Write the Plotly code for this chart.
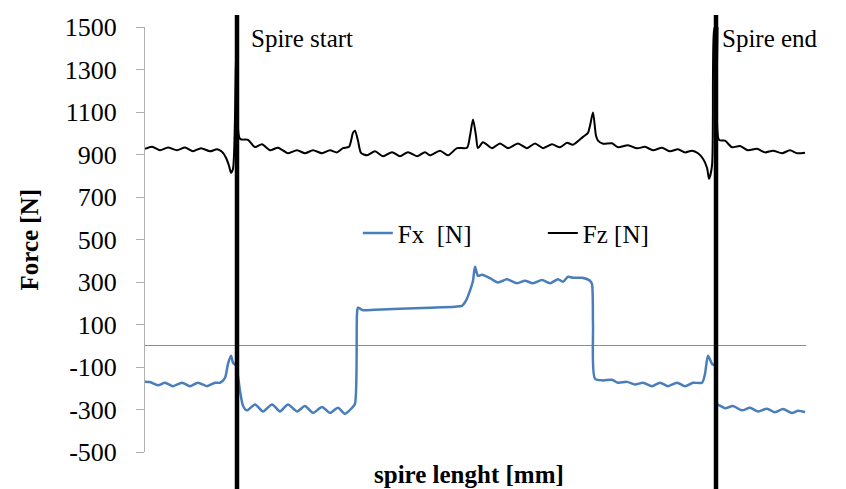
import plotly.graph_objects as go

# ---- data ----
fz_x = [0.0, 0.7, 1.5, 2.3, 3.2, 4.0, 4.8, 5.6, 6.5, 7.2, 7.7, 8.1, 8.4, 8.6, 8.8, 9.1, 9.3,
        9.5, 10.3, 11.0, 11.7, 12.5, 13.3, 14.3, 15.2, 16.0, 16.8, 17.7, 18.5, 19.2, 19.8, 20.4,
        20.8, 21.0, 21.3, 21.6, 22.2, 23.0, 23.8, 24.7, 25.5, 26.3, 27.2, 28.0, 28.5, 29.5, 30.3,
        31.2, 32.2, 32.5, 32.8, 33.1, 33.3, 33.8, 34.7, 35.5, 36.3, 37.3, 38.2, 39.0, 39.8, 40.7,
        41.5, 42.2, 42.8, 43.8, 44.3, 44.5, 44.8, 45.1, 45.3, 45.8, 46.7, 47.3, 48.3, 49.2, 50.0,
        50.8, 51.7, 52.5, 53.3, 54.0, 54.7, 55.3, 55.8, 56.2, 56.4, 56.7, 56.9, 57.2, 57.4, 58.0,
        58.7, 59.5, 60.3, 61.2, 62.0, 62.8, 63.7, 64.5, 65.2, 66.0]
fz_y = [927, 937, 920, 933, 920, 933, 915, 930, 915, 925, 913, 885, 847, 814, 833, 1341, 1530,
        974, 969, 935, 948, 920, 932, 906, 920, 906, 920, 906, 920, 910, 930, 936,
        1002, 1012, 965, 908, 896, 915, 892, 911, 892, 911, 892, 911, 896, 918, 896,
        930, 932, 988, 1065, 988, 930, 958, 930, 952, 930, 952, 930, 952, 930, 948,
        934, 955, 946, 983, 1002, 1035, 1098, 988, 965, 951, 953, 934, 944, 929, 936,
        920, 932, 915, 925, 910, 918, 906, 880, 838, 786, 847, 1482, 1530, 969, 965,
        934, 940, 920, 927, 910, 918, 906, 920, 906, 908]

fx_x = [0.0, 0.5, 1.3, 2.0, 2.8, 3.7, 4.5, 5.3, 6.2, 7.0, 7.5, 8.0, 8.3, 8.6, 8.8, 9.1, 9.5,
        9.8, 10.2, 11.0, 11.8, 12.7, 13.5, 14.3, 15.2, 16.0, 16.8, 17.7, 18.5, 19.3, 20.0, 20.7,
        21.0, 21.2, 21.3, 21.8, 23.0, 25.5, 28.5, 31.0, 31.7, 32.1, 32.5, 32.8, 33.0, 33.3, 33.7,
        34.5, 35.3, 36.2, 37.2, 38.0, 38.8, 39.7, 40.5, 41.3, 41.8, 42.3, 42.8, 43.7, 44.5, 44.7,
        44.8, 45.0, 45.8, 46.7, 47.3, 48.2, 49.0, 49.8, 50.7, 51.5, 52.3, 53.2, 54.0, 54.8, 55.7,
        56.0, 56.3, 56.7, 57.0, 57.2, 57.5, 58.0, 58.8, 59.7, 60.5, 61.3, 62.2, 63.0, 63.8, 64.7,
        65.3, 66.0]
fx_y = [-169, -171, -186, -174, -190, -174, -190, -174, -190, -174, -174, -151, -85, -47, -80, -94, -212,
        -282, -304, -276, -309, -276, -309, -276, -309, -284, -316, -288, -316, -292, -320, -292,
        -273, 150, 179, 167, 170, 174, 179, 184, 188, 212, 259, 306, 372, 329, 334,
        318, 298, 313, 294, 306, 294, 309, 294, 313, 301, 325, 320, 320, 306, 290,
        100, -155, -163, -160, -174, -170, -182, -174, -190, -174, -190, -174, -190, -174, -174,
        -132, -47, -85, -94, -273, -282, -294, -284, -304, -292, -309, -296, -313, -298, -316,
        -306, -313]

spire_marks_x = [9.2, 57.1]
spire_marks_text = ["Spire start", "Spire end"]
spire_text_shift = [12, 4]
y_ticks = [-500, -300, -100, 100, 300, 500, 700, 900, 1100, 1300, 1500]
y_tick_text = ["-500", "-300", "-100", "100", "300", "500", "700", "900", "1100", "1300", "1500"]

FONT = "Liberation Serif, Times New Roman, serif"

fig = go.Figure()
fig.add_trace(go.Scatter(x=fx_x, y=fx_y, mode="lines", name="Fx\u00a0\u00a0[N]",
                         line=dict(color="#4a7ebb", width=2.5, shape="spline", smoothing=0.7)))
fig.add_trace(go.Scatter(x=fz_x, y=fz_y, mode="lines", name="Fz [N]",
                         line=dict(color="black", width=2, shape="spline", smoothing=0.7)))

for xm, txt, sh in zip(spire_marks_x, spire_marks_text, spire_text_shift):
    fig.add_shape(type="line", xref="x", yref="paper", x0=xm, x1=xm, y0=-0.09, y1=1.028,
                  line=dict(color="black", width=4.5), layer="above")
    fig.add_annotation(x=xm, xref="x", y=0.972, yref="paper", text=txt, showarrow=False,
                       xanchor="left", yanchor="middle", xshift=sh,
                       font=dict(family=FONT, size=25, color="black"))

fig.add_annotation(x=0.49, xref="paper", y=-0.052, yref="paper", text="<b>spire lenght [mm]</b>",
                   showarrow=False, xanchor="center", yanchor="middle",
                   font=dict(family=FONT, size=25, color="black"))
fig.add_annotation(x=-0.174, xref="paper", y=0.5, yref="paper", text="<b>Force [N]</b>",
                   showarrow=False, textangle=-90, xanchor="center", yanchor="middle",
                   font=dict(family=FONT, size=25, color="black"))

fig.update_layout(
    width=846, height=489,
    margin=dict(l=145, r=40, t=27, b=37),
    paper_bgcolor="white", plot_bgcolor="white",
    font=dict(family=FONT, size=25, color="black"),
    showlegend=True,
    legend=dict(orientation="h", x=0.322, y=0.515, xanchor="left", yanchor="middle",
                bgcolor="rgba(0,0,0,0)", font=dict(family=FONT, size=25, color="black"),
                entrywidth=140, entrywidthmode="pixels"),
    xaxis=dict(range=[0, 66.1], visible=False, showgrid=False, zeroline=False),
    yaxis=dict(range=[-500, 1500], tickvals=y_ticks, ticktext=y_tick_text, showgrid=False,
               showline=True, linecolor="#b0b0b0", linewidth=1,
               ticks="outside", ticklen=8, tickcolor="#b0b0b0",
               zeroline=True, zerolinecolor="#8c8c8c", zerolinewidth=1,
               ticklabelstandoff=14,
               tickfont=dict(family=FONT, size=26, color="black")),
)

fig.write_html("out.html")
